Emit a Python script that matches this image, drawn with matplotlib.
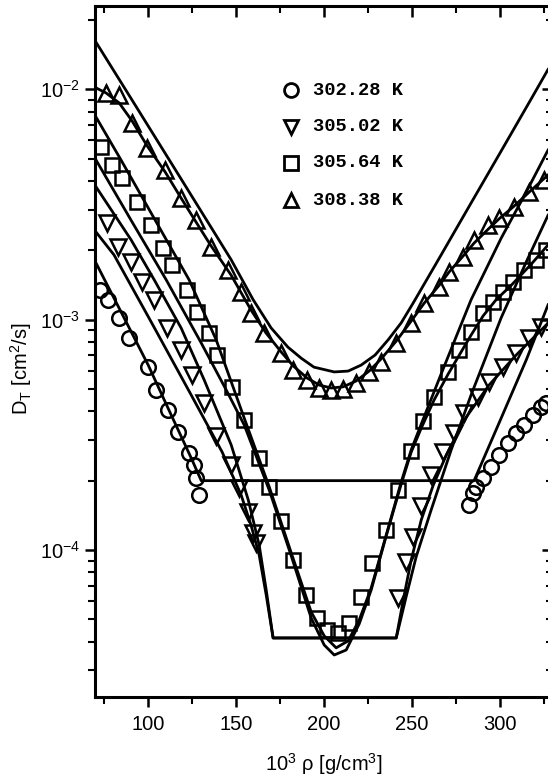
import numpy as np
import matplotlib.pyplot as plt

# measured thermal diffusivity, four isotherms
rho_302 = [72.9, 77.5, 83.7, 89.4, 100.2, 104.7, 111.5, 117.2, 123.4, 126.3, 127.4, 129.1,
           282.4, 284.7, 286.4, 290.4, 294.9, 299.5, 304.5, 309.1, 313.6, 318.7, 323.3, 326.1]
dt_302 = [1.35e-3, 1.22e-3, 1.02e-3, 8.3e-4, 6.2e-4, 4.95e-4, 4.06e-4, 3.25e-4, 2.64e-4, 2.34e-4, 2.05e-4, 1.73e-4,
          1.57e-4, 1.77e-4, 1.87e-4, 2.05e-4, 2.29e-4, 2.58e-4, 2.91e-4, 3.22e-4, 3.49e-4, 3.86e-4, 4.18e-4, 4.35e-4]

rho_305a = [76.9, 83.1, 90.5, 96.8, 103.6, 111.0, 119.0, 125.2, 132.1, 138.8, 147.3, 151.9, 157.0, 159.8, 161.5,
            242.1, 246.6, 250.6, 255.2, 260.8, 267.6, 273.9, 279.5, 287.5, 293.7, 301.7, 309.1, 316.5, 323.3]
dt_305a = [2.63e-3, 2.07e-3, 1.78e-3, 1.46e-3, 1.22e-3, 9.2e-4, 7.4e-4, 5.75e-4, 4.35e-4, 3.13e-4, 2.34e-4, 1.86e-4,
           1.46e-4, 1.19e-4, 1.07e-4,
           6.2e-5, 8.9e-5, 1.14e-4, 1.55e-4, 2.11e-4, 2.66e-4, 3.22e-4, 3.93e-4, 4.62e-4, 5.36e-4, 6.22e-4, 7.16e-4,
           8.3e-4, 9.3e-4]

rho_305b = [73.5, 79.7, 85.4, 93.9, 101.9, 108.7, 113.8, 122.3, 128.0, 134.8, 139.3, 147.9, 154.7, 163.2, 168.9,
            175.7, 182.5, 189.9, 196.1, 201.8, 208.0, 214.3, 221.1, 227.3, 235.3, 242.1, 249.5, 256.3, 262.5, 270.5,
            276.7, 283.5, 290.4, 296.0, 301.7, 307.4, 313.6, 320.4, 326.1]
dt_305b = [5.62e-3, 4.69e-3, 4.12e-3, 3.24e-3, 2.58e-3, 2.05e-3, 1.73e-3, 1.35e-3, 1.08e-3, 8.75e-4, 7.03e-4,
           5.11e-4, 3.67e-4, 2.51e-4, 1.88e-4, 1.33e-4, 9.06e-5, 6.38e-5, 5.07e-5, 4.5e-5, 4.36e-5, 4.82e-5, 6.25e-5,
           8.79e-5, 1.22e-4, 1.82e-4, 2.69e-4, 3.63e-4, 4.61e-4, 5.92e-4, 7.38e-4, 8.83e-4, 1.07e-3, 1.19e-3, 1.32e-3,
           1.46e-3, 1.64e-3, 1.82e-3, 2.0e-3]

rho_308 = [76.3, 83.7, 91.1, 99.6, 109.8, 118.9, 127.4, 135.9, 145.6, 153.0, 158.6, 166.0, 175.7, 182.5, 190.4,
           197.3, 204.1, 210.9, 218.3, 225.6, 232.4, 241.0, 249.5, 256.9, 265.4, 271.0, 279.0, 285.2, 293.2, 299.4,
           307.9, 316.5, 325.0]
dt_308 = [9.63e-3, 9.45e-3, 7.14e-3, 5.56e-3, 4.46e-3, 3.38e-3, 2.71e-3, 2.07e-3, 1.64e-3, 1.32e-3, 1.07e-3,
          8.75e-4, 7.16e-4, 6.05e-4, 5.47e-4, 5.05e-4, 4.95e-4, 5.0e-4, 5.31e-4, 5.93e-4, 6.55e-4, 7.92e-4, 9.68e-4,
          1.18e-3, 1.39e-3, 1.61e-3, 1.87e-3, 2.22e-3, 2.58e-3, 2.76e-3, 3.08e-3, 3.58e-3, 4.04e-3]

# model curves
fit_rho = {
    'a': [70.6, 90.5, 107.6, 124.6, 147.3, 159.8, 170.0, 179.5, 187.1, 194.3, 205.8, 213.7, 221.1, 229.0, 236.4,
          243.8, 250.6, 266.5, 283.5, 300.6, 317.6, 327.2],
    'b': [70.6, 76.3, 83.7, 91.1, 99.6, 109.8, 118.9, 127.4, 135.9, 147.3, 158.6, 167.1, 175.7, 182.5, 190.4, 197.3,
          204.1, 210.9, 218.3, 225.6, 232.4, 241.0, 249.5, 256.9, 265.4, 271.0, 279.0, 285.2, 293.2, 299.4, 307.9,
          316.5, 327.2],
    'c': [70.6, 84.8, 101.9, 123.4, 138.8, 154.7, 168.9, 181.4, 192.7, 200.1, 206.9, 213.7, 220.0, 226.8, 235.3,
          243.8, 249.5, 255.2, 266.5, 283.5, 300.6, 314.8, 327.2],
    'd': [70.6, 90.5, 110.4, 130.3, 144.5, 154.7, 168.9, 181.4, 192.7, 200.1, 205.8, 212.6, 220.0, 226.8, 235.3,
          243.8, 249.5, 255.2, 262.5, 270.5, 277.8, 283.5, 290.4, 297.7, 306.3, 317.6, 327.2],
    'e': [70.6, 90.5, 103.6, 118.9, 132.0, 147.3, 157.0, 163.2, 167.2, 171.1,
          241.0, 246.6, 252.3, 260.8, 272.2, 283.5, 300.6, 314.8, 327.2],
    'f': [70.6, 80.8, 101.9, 124.6, 142.2, 153.0, 158.6, 163.2, 167.2, 171.1,
          241.0, 245.0, 249.5, 255.2, 262.0, 269.4, 279.5, 293.7, 309.1, 327.2],
    'g': [70.6, 84.8, 100.2, 113.3, 124.6, 130.3, 285.2, 300.6, 314.8, 327.2],
}
fit_dt = {
    'a': [1.60e-2, 9.12e-3, 5.62e-3, 3.47e-3, 1.82e-3, 1.22e-3, 9.2e-4, 7.6e-4, 6.8e-4, 6.22e-4, 5.93e-4, 5.98e-4,
          6.35e-4, 7.02e-4, 8.17e-4, 9.68e-4, 1.18e-3, 1.91e-3, 3.21e-3, 5.4e-3, 9.08e-3, 1.22e-2],
    'b': [1.014e-2, 9.64e-3, 8.73e-3, 7.28e-3, 5.68e-3, 4.38e-3, 3.37e-3, 2.65e-3, 2.09e-3, 1.56e-3, 1.10e-3,
          8.75e-4, 7.24e-4, 6.3e-4, 5.58e-4, 5.2e-4, 5.05e-4, 5.11e-4, 5.42e-4, 5.98e-4, 6.75e-4, 8.07e-4, 9.86e-4,
          1.18e-3, 1.41e-3, 1.61e-3, 1.89e-3, 2.15e-3, 2.47e-3, 2.74e-3, 3.11e-3, 3.58e-3, 4.25e-3],
    'c': [7.57e-3, 4.93e-3, 2.9e-3, 1.49e-3, 8.17e-4, 3.74e-4, 1.88e-4, 9.72e-5, 5.39e-5, 4.24e-5, 3.76e-5, 4.03e-5,
          4.97e-5, 6.84e-5, 1.16e-4, 1.97e-4, 2.72e-4, 3.52e-4, 5.81e-4, 1.22e-3, 2.26e-3, 3.58e-3, 5.45e-3],
    'd': [4.93e-3, 2.7e-3, 1.49e-3, 7.92e-4, 4.95e-4, 3.49e-4, 1.82e-4, 9.43e-5, 5.07e-5, 3.87e-5, 3.5e-5, 3.68e-5,
          4.78e-5, 6.71e-5, 1.15e-4, 1.93e-4, 2.66e-4, 3.38e-4, 4.48e-4, 5.81e-4, 7.23e-4, 8.57e-4, 1.04e-3, 1.22e-3,
          1.41e-3, 1.74e-3, 2.11e-3],
    'e': [3.77e-3, 2.22e-3, 1.49e-3, 9.2e-4, 5.47e-4, 2.86e-4, 1.65e-4, 1.05e-4, 6.7e-5, 4.15e-5,
          4.15e-5, 6.25e-5, 9.33e-5, 1.49e-4, 2.72e-4, 4.71e-4, 1.02e-3, 1.78e-3, 2.84e-3],
    'f': [2.40e-3, 1.91e-3, 9.77e-4, 4.71e-4, 2.66e-4, 1.73e-4, 1.28e-4, 9.5e-5, 6.37e-5, 4.15e-5,
          4.15e-5, 6.07e-5, 9.05e-5, 1.35e-4, 1.91e-4, 2.58e-4, 3.66e-4, 5.2e-4, 7.02e-4, 9.66e-4],
    'g': [1.76e-3, 1.08e-3, 6.35e-4, 3.85e-4, 2.51e-4, 2.0e-4, 2.0e-4, 3.74e-4, 6.68e-4, 1.16e-3],
}

legend_labels = ['302.28 K', '305.02 K', '305.64 K', '308.38 K']
legend_marks = ['o', 'v', 's', '^']

plt.rcParams['font.family'] = ['Liberation Sans', 'DejaVu Sans']
plt.rcParams['mathtext.fontset'] = 'custom'
plt.rcParams['mathtext.rm'] = 'Liberation Sans'
plt.rcParams['mathtext.it'] = 'Liberation Sans:italic'

fig = plt.figure(figsize=(5.48, 7.83), dpi=100)
ax = fig.add_axes([95 / 548, (783 - 697) / 783, 458 / 548, (697 - 6) / 783])

for key in fit_rho:
    ax.plot(fit_rho[key], fit_dt[key], color='black', lw=2.0, zorder=2, solid_joinstyle='round')

mk = dict(linestyle='none', mfc='none', mec='black', mew=1.8, zorder=3)
ax.plot(rho_302, dt_302, marker='o', ms=10.5, **mk)
ax.plot(rho_305a, dt_305a, marker='v', ms=11, **mk)
ax.plot(rho_305b, dt_305b, marker='s', ms=10, **mk)
ax.plot(rho_308, dt_308, marker='^', ms=11, **mk)

ax.set_yscale('log')
ax.set_xlim(70, 330)
ax.set_ylim(2.3e-5, 2.3e-2)

ax.set_xticks([100, 150, 200, 250, 300])
ax.set_xticks([75, 125, 175, 225, 275, 325], minor=True)
ax.set_yticks([1e-4, 1e-3, 1e-2])
ax.set_yticklabels([r'10$^{-4}$', r'10$^{-3}$', r'10$^{-2}$'])
ax.tick_params(axis='both', which='major', direction='out', length=7, width=1.8, labelsize=14.5)
ax.tick_params(axis='both', which='minor', direction='out', length=5, width=1.5)
ax.tick_params(axis='x', pad=6)
for s in ax.spines.values():
    s.set_linewidth(2.2)

# inward ticks on the top and right sides
top = ax.twiny()
top.set_xlim(ax.get_xlim())
top.set_xticks([100, 150, 200, 250, 300])
top.set_xticks([75, 125, 175, 225, 275, 325], minor=True)
top.tick_params(axis='x', which='major', direction='in', length=8, width=1.8, labeltop=False)
top.tick_params(axis='x', which='minor', direction='in', length=5, width=1.5)
right = ax.twinx()
right.set_yscale('log')
right.set_ylim(ax.get_ylim())
right.tick_params(axis='y', which='major', direction='in', length=8, width=1.8, labelright=False)
right.tick_params(axis='y', which='minor', direction='in', length=5, width=1.5, labelright=False)

ax.set_xlabel(r'10$^{3}$ ρ [g/cm$^{3}$]', fontsize=14.5, labelpad=12)
ax.set_ylabel(r'D$_{\mathregular{T}}$ [cm$^{2}$/s]', fontsize=14.5)
ax.yaxis.set_label_coords(-0.133, 0.475)

# key of symbols
row_y = [0.8784, 0.8249, 0.7728, 0.7192]
for m, lab, yy in zip(legend_marks, legend_labels, row_y):
    ax.plot([0.428], [yy], transform=ax.transAxes, marker=m, ms=10, linestyle='none',
            mfc='none', mec='black', mew=2.0, clip_on=False)
    ax.text(0.476, yy, lab, transform=ax.transAxes, va='center', ha='left',
            family='Liberation Mono', weight='bold', fontsize=13.5)

fig.savefig('out.png', dpi=100)
